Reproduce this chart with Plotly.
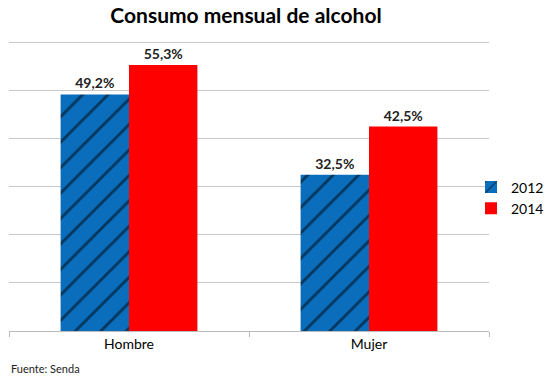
import plotly.graph_objects as go

categories = ["Hombre", "Mujer"]
series_names = ["2012", "2014"]
values_2012 = [49.2, 32.5]
values_2014 = [55.3, 42.5]
labels_2012 = ["49,2%", "32,5%"]
labels_2014 = ["55,3%", "42,5%"]

FONT = "Lato, Carlito, Calibri, sans-serif"

# page body has an 8px margin; keep the figure inside the window without scrollbars
W, H = 537, 367

fig = go.Figure()
fig.add_trace(go.Bar(
    x=categories, y=values_2012, name=series_names[0],
    text=labels_2012, textposition="outside", cliponaxis=False,
    textfont=dict(family=FONT, size=14, color="#222222", weight="bold"),
    marker=dict(color="#0a6ebd", line=dict(width=0),
                pattern=dict(shape="/", fgcolor="black", bgcolor="#0a6ebd",
                             size=18, solidity=0.16, fillmode="overlay")),
))
fig.add_trace(go.Bar(
    x=categories, y=values_2014, name=series_names[1],
    text=labels_2014, textposition="outside", cliponaxis=False,
    textfont=dict(family=FONT, size=14, color="#222222", weight="bold"),
    marker=dict(color="#ff0000", line=dict(width=0)),
))

fig.update_layout(
    width=W, height=H,
    margin=dict(l=1, r=56, t=33, b=44, autoexpand=False),
    paper_bgcolor="white", plot_bgcolor="white",
    barmode="group", bargap=0.43, bargroupgap=0,
    title=dict(text="<b>Consumo mensual de alcohol</b>", x=238 / W, xref="container",
               xanchor="center", y=1.0, yref="container", yanchor="top",
               pad=dict(t=0, b=0),
               font=dict(family=FONT, size=21, color="black")),
    showlegend=True,
    legend=dict(xref="container", yref="container", x=463 / W, xanchor="left",
                y=(H - 190) / H, yanchor="middle",
                font=dict(family=FONT, size=14, color="black"),
                itemwidth=30, tracegroupgap=2, bgcolor="rgba(0,0,0,0)"),
    xaxis=dict(showline=True, linecolor="#bbbbbb", linewidth=1,
               ticks="outside", ticklen=5, tickcolor="#bbbbbb",
               tickson="boundaries", automargin=False,
               tickfont=dict(family=FONT, size=14, color="black"),
               showgrid=False),
    yaxis=dict(range=[0, 60.3], tickvals=[10, 20, 30, 40, 50, 60], showticklabels=False,
               showgrid=True, gridcolor="#c8c8c8", gridwidth=1, automargin=False,
               zeroline=False, showline=False),
    annotations=[dict(text="Fuente: Senda", x=0.0, xref="paper", xanchor="left",
                      y=-0.131, yref="paper", yanchor="middle",
                      showarrow=False,
                      font=dict(family=FONT, size=11, color="#222222"))],
)

fig.write_html("out.html")
